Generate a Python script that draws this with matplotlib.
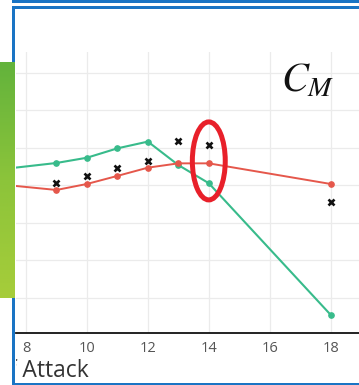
import matplotlib
matplotlib.use("Agg")
import matplotlib.pyplot as plt
import numpy as np
from matplotlib.patches import Rectangle, Ellipse
from matplotlib.colors import LinearSegmentedColormap

# angle of attack (deg) and moment coefficient
alpha_model = [7, 9, 10, 11, 12, 13, 14, 18]
cm_green = [-0.0317, -0.0280, -0.0252, -0.0202, -0.0166, -0.0291, -0.0388, -0.1090]
cm_red = [-0.0392, -0.0424, -0.0392, -0.0349, -0.0305, -0.0282, -0.0282, -0.0392]

alpha_exp = [9, 10, 11, 12, 13, 14, 18]
cm_exp = [-0.0385, -0.0348, -0.0305, -0.0268, -0.0161, -0.0186, -0.0490]

xticks = [8, 10, 12, 14, 16, 18]
yticks = [-0.10, -0.08, -0.06, -0.04, -0.02, 0.00, 0.02]

W, H = 359, 385
plt.rcParams["mathtext.fontset"] = "stix"
fig = plt.figure(figsize=(W / 100, H / 100), dpi=100)


def fx(px):
    return px / W


def fy(py):
    return 1 - py / H


ax = fig.add_axes([fx(16), fy(333), fx(W) - fx(16), fy(52) - fy(333)])
ax.plot(alpha_model, cm_green, color="#38bb8b", lw=1.5, marker="o", ms=3.8, zorder=3)
ax.plot(alpha_model, cm_red, color="#e5574b", lw=1.4, marker="o", ms=3.8, zorder=3)
ax.plot(alpha_exp, cm_exp, ls="none", marker="x", ms=4, mew=1.9, color="#111111", zorder=4)

ax.set_xlim(7.672, 18.93)
ax.set_ylim(-0.1187, 0.0312)
ax.set_xticks(xticks)
ax.set_yticks(yticks)
ax.set_yticklabels([])
ax.grid(True, color="#ebebeb", lw=0.9)
ax.set_axisbelow(True)
for side in ("left", "right", "top"):
    ax.spines[side].set_visible(False)
ax.spines["bottom"].set_color("#111111")
ax.spines["bottom"].set_linewidth(1.3)
ax.tick_params(axis="both", length=0)
ax.tick_params(axis="x", pad=6, labelsize=10.5, labelcolor="#555555")
for lab in ax.get_xticklabels():
    lab.set_family("Open Sans")

# highlight around alpha = 14
ax.add_patch(Ellipse((14, -0.0269), 1.08, 0.0416, fill=False,
                     edgecolor="#e8202a", lw=3.6, zorder=5, clip_on=False))

fig.text(fx(281), fy(92), r"$C_M$", fontsize=29, color="#111111",
         ha="left", va="baseline")

# axis title, cut off by the frame on the left
t = fig.text(fx(89), fy(376.7), "Angle of Attack", fontsize=16.5, color="#333333",
             family="Open Sans", ha="right", va="baseline")
t.set_clip_path(Rectangle((fx(16), 0), 1, 1, transform=fig.transFigure))

# blue frame
blue = "#1a74c4"
for x0, y0, x1, y1 in [(12, 0, W, 3.3), (12, 6, W, 9.3), (12, 6, 15.3, H), (12, 382.7, W, H)]:
    fig.add_artist(Rectangle((fx(x0), fy(y1)), fx(x1) - fx(x0), fy(y0) - fy(y1),
                             transform=fig.transFigure, color=blue, lw=0, zorder=6))

# green side bar
bar = fig.add_axes([0, fy(298), fx(15), fy(62) - fy(298)], zorder=7)
cmap = LinearSegmentedColormap.from_list("bar", ["#63b33c", "#8cc43a", "#a6cd3a"])
bar.imshow(np.linspace(0, 1, 100).reshape(-1, 1), aspect="auto", cmap=cmap)
bar.axis("off")

fig.savefig("out.png", dpi=100)
